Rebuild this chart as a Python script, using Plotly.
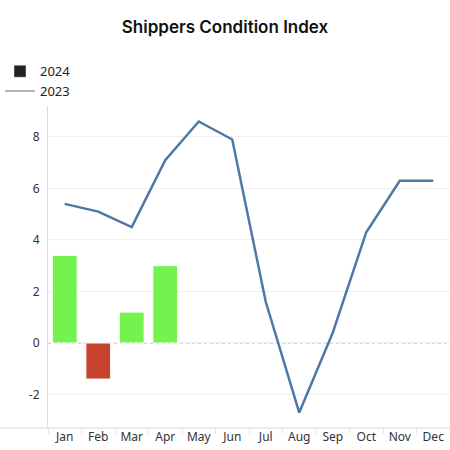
import plotly.graph_objects as go

months = ["Jan", "Feb", "Mar", "Apr", "May", "Jun", "Jul", "Aug", "Sep", "Oct", "Nov", "Dec"]
index_2024 = [3.4, -1.4, 1.2, 3.0]
index_2023 = [5.4, 5.1, 4.5, 7.1, 8.6, 7.9, 1.6, -2.7, 0.4, 4.3, 6.3, 6.3]
y_ticks = [-2, 0, 2, 4, 6, 8]
y_tick_labels = ["-2", "0", "2", "4", "6", "8"]

GREEN = "#74f24e"
RED = "#c8432f"
BLUE = "#4e79a7"

bar_colors = [GREEN if v >= 0 else RED for v in index_2024]

fig = go.Figure()
fig.add_trace(go.Bar(
    x=months[:len(index_2024)],
    y=index_2024,
    marker=dict(color=bar_colors, line=dict(color="white", width=1)),
    showlegend=False,
))
fig.add_trace(go.Scatter(
    x=months,
    y=index_2023,
    mode="lines",
    line=dict(color=BLUE, width=2.5),
    showlegend=False,
))
# legend entries only
fig.add_trace(go.Bar(x=[None], y=[None], name="2024", marker_color="#222222"))
fig.add_trace(go.Scatter(x=[None], y=[None], name="2023", mode="lines",
                         line=dict(color="#9a9a9a", width=1.5)))

fig.add_hline(y=0, line=dict(color="#aaaaaa", width=1, dash="dot"), layer="below")

fig.update_layout(
    width=450, height=450,
    margin=dict(l=48, r=0, t=106, b=22, autoexpand=False),
    paper_bgcolor="white", plot_bgcolor="white",
    font=dict(family="Noto Sans, sans-serif", size=12, color="#333333"),
    title=dict(text="Shippers Condition Index", x=0.5, xanchor="center",
               y=0.94, yanchor="middle",
               font=dict(size=17, color="#111111", family="Inter, sans-serif", weight=600)),
    bargap=0.26,
    legend=dict(xref="container", yref="container", x=0.0, y=0.875,
                xanchor="left", yanchor="top", orientation="v",
                font=dict(size=13, color="#222222"), itemwidth=30,
                tracegroupgap=0, bgcolor="rgba(0,0,0,0)"),
    shapes=[
        dict(type="line", xref="paper", yref="paper", x0=-0.12, x1=1, y0=1, y1=1,
             line=dict(color="#e6e6e6", width=1.5)),
        dict(type="line", xref="paper", yref="paper", x0=-0.12, x1=1, y0=0, y1=0,
             line=dict(color="#e6e6e6", width=1.5)),
    ],
)
fig.update_xaxes(
    categoryorder="array", categoryarray=months, range=[-0.5, len(months) - 0.5],
    showgrid=False, zeroline=False, showline=False,
    ticks="outside", tickson="boundaries", ticklen=5, tickcolor="#e6e6e6",
    tickangle=0, tickfont=dict(size=12, color="#333333"),
)
fig.update_yaxes(
    range=[-3.3, 9.2], tickvals=y_ticks, ticktext=y_tick_labels,
    showgrid=True, gridcolor="#f0f0f0", gridwidth=1,
    zeroline=False, showline=True, linecolor="#dddddd", linewidth=1,
    ticks="", ticklabelstandoff=5,
    tickfont=dict(size=12, color="#333333"),
)

fig.write_html("out.html", config={"displayModeBar": False},
               post_script="document.body.style.margin='0';")
